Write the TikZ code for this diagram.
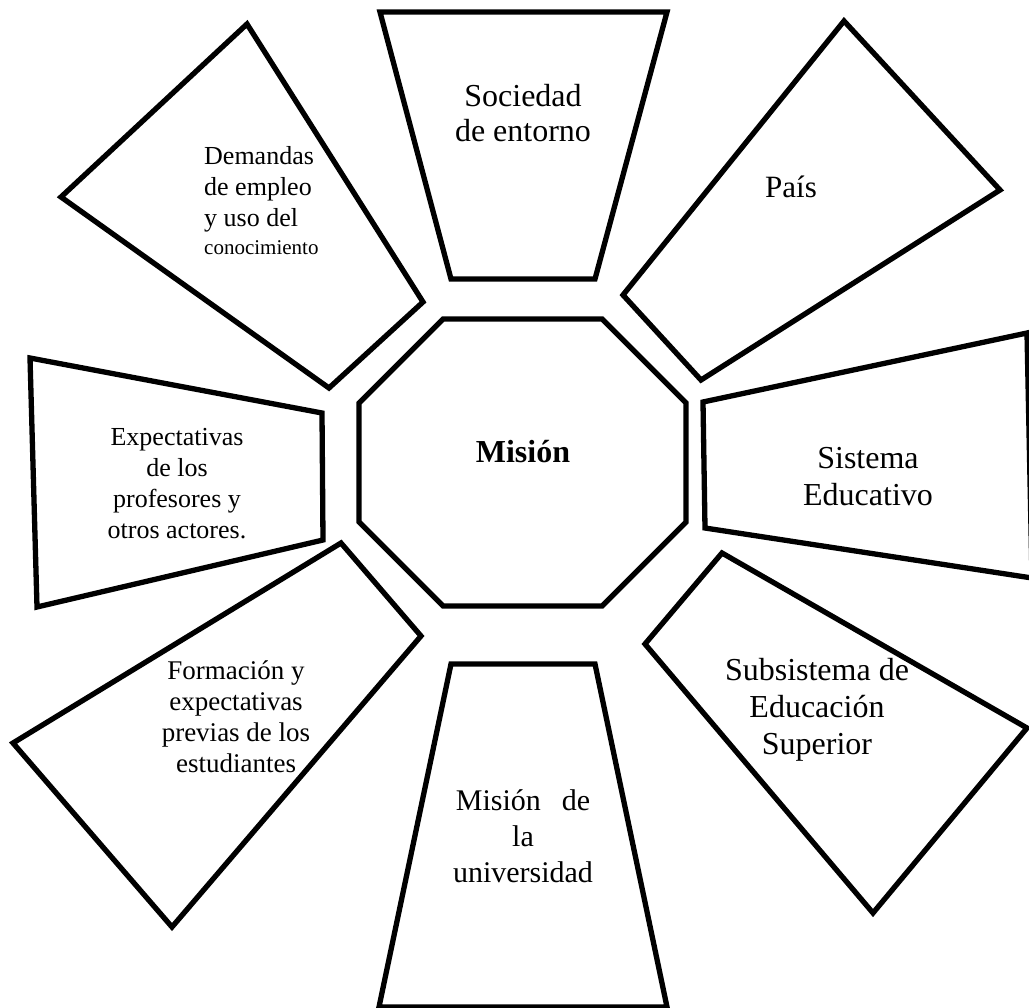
\documentclass[tikz,border=0pt]{standalone}
\usepackage{fontspec}
\setmainfont{Liberation Serif}
\begin{document}
\begin{tikzpicture}[x=1pt,y=-1pt,
  panel/.style={draw=black,line width=5.3pt,line join=miter,fill=white},
  lbl/.style={align=center,inner sep=0pt,text=black}]
\useasboundingbox (0,0) rectangle (1029,1008);
\clip (0,0) rectangle (1029,1008);

% central octagon
\draw[panel] (443,319) -- (602,319) -- (686,403) -- (686,522) -- (602,606)
  -- (443,606) -- (359,522) -- (359,403) -- cycle;
\node[lbl,font=\fontsize{32}{37}\selectfont\bfseries] (mision) at (523,452) {Misión};

% surrounding panels
\draw[panel] (380,12) -- (667,12) -- (595,279) -- (451,279) -- cycle;
\node[lbl,font=\fontsize{32}{35}\selectfont] (sociedad) at (523,113) {Sociedad\\de entorno};

\draw[panel] (844,21) -- (1000,190) -- (701,380) -- (623,295) -- cycle;
\node[lbl,font=\fontsize{31}{36}\selectfont] (pais) at (791,187) {País};

\draw[panel] (703,402) -- (1027,333) -- (1032,578) -- (705,528) -- cycle;
\node[lbl,font=\fontsize{32}{37}\selectfont] (sistema) at (868,477) {Sistema\\Educativo};

\draw[panel] (722,553) -- (1027,728) -- (873,913) -- (645,644) -- cycle;
\node[lbl,font=\fontsize{32}{37}\selectfont] (subsistema) at (817,710) {Subsistema de\\Educación\\Superior};

\draw[panel] (451,664) -- (595,664) -- (667,1007) -- (379,1007) -- cycle;
\node[lbl,font=\fontsize{30}{36}\selectfont] (misionuni) at (523,836) {Misión\hspace{0.7em}de\\la\\universidad};

\draw[panel] (341,543) -- (421,636) -- (172,927) -- (13,743) -- cycle;
\node[lbl,font=\fontsize{27}{31}\selectfont] (formacion) at (236,717) {Formación y\\expectativas\\previas de los\\estudiantes};

\draw[panel] (30,358) -- (322,413) -- (323,540) -- (37,607) -- cycle;
\node[lbl,font=\fontsize{26}{31}\selectfont] (expectativas) at (177,484) {Expectativas\\de los\\profesores y\\otros actores.};

\draw[panel] (247,24) -- (423,302) -- (329,388) -- (61,197) -- cycle;
\node[lbl,anchor=north west,align=left,font=\fontsize{26}{31}\selectfont] (demandas) at (204,146)
  {Demandas\\de empleo\\y uso del\\[-3pt]{\fontsize{21}{26}\selectfont conocimiento}};
\end{tikzpicture}
\end{document}
